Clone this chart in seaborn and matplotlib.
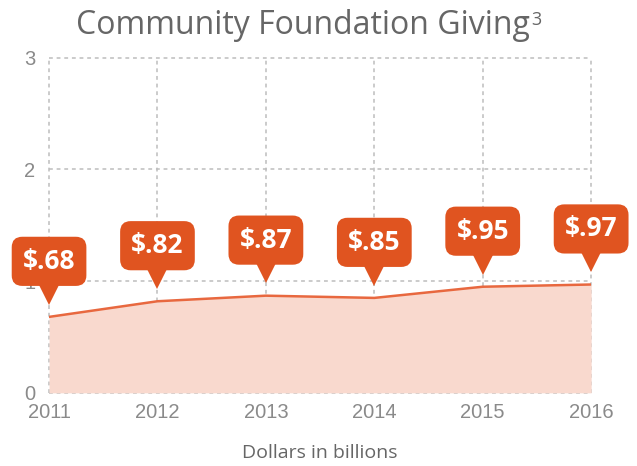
import matplotlib
matplotlib.use("Agg")
import matplotlib.pyplot as plt
import matplotlib.transforms as mtransforms
import seaborn as sns
import pandas as pd

# data
years = [2011, 2012, 2013, 2014, 2015, 2016]
giving = [0.68, 0.82, 0.87, 0.85, 0.95, 0.97]
labels = ["$.68", "$.82", "$.87", "$.85", "$.95", "$.97"]
yticks = [0, 1, 2, 3]

ORANGE = "#E05420"
LINE = "#E8683F"
FILL = "#F9D9CE"
GRID = "#BDBDBD"

df = pd.DataFrame({"year": years, "giving": giving})

sns.set_style("white")
plt.rcParams["font.family"] = ["Liberation Sans", "DejaVu Sans"]

fig = plt.figure(figsize=(6.37, 4.66), dpi=100)
ax = fig.add_axes([0.077, 0.157, 0.851, 0.719])

ax.fill_between(df["year"], df["giving"], 0, color=FILL, lw=0, zorder=1)
sns.lineplot(data=df, x="year", y="giving", color=LINE, lw=1.8, ax=ax, zorder=2)

ax.set_xlim(years[0], years[-1])
ax.set_ylim(yticks[0], yticks[-1])
ax.set_xticks(years)
ax.set_yticks(yticks)
ax.grid(True, color=GRID, linestyle=(0, (2.5, 2.5)), lw=1.1)
for gl in ax.get_xgridlines() + ax.get_ygridlines():
    gl.set_clip_on(False)
for s in ax.spines.values():
    s.set_visible(False)
ax.tick_params(length=0, colors="#8A8A8A", labelsize=14.5)
ax.tick_params(axis="y", pad=10)
ax.tick_params(axis="x", pad=7)

ax.set_xlabel("Dollars in billions", fontsize=14, color="#666666",
              family="Open Sans", labelpad=16)
ax.set_ylabel("")

# callout bubbles
for x, y, lab in zip(years, giving, labels):
    tr = mtransforms.offset_copy(ax.transData, fig=fig, x=0, y=16, units="points")
    ax.plot([x], [y], marker="v", ms=14, color=ORANGE, transform=tr,
            clip_on=False, zorder=5, markeredgewidth=0)
    ax.annotate(lab, xy=(x, y), xytext=(0, 40), textcoords="offset points",
                ha="center", va="center", color="white", fontsize=19,
                fontweight="bold", family="Open Sans", zorder=6,
                bbox=dict(boxstyle="round,pad=0.42,rounding_size=0.4",
                          fc=ORANGE, ec="none"),
                annotation_clip=False)

title = fig.text(0.475, 0.945, "Community Foundation Giving", ha="center",
                 va="center", fontsize=23, color="#666666", family="Open Sans")
fig.canvas.draw()
bb = title.get_window_extent().transformed(fig.transFigure.inverted())
fig.text(bb.x1 + 0.002, bb.y1 - 0.003, "3", ha="left", va="top",
         fontsize=13, color="#666666", family="Open Sans")

fig.savefig("out.png", dpi=100)
